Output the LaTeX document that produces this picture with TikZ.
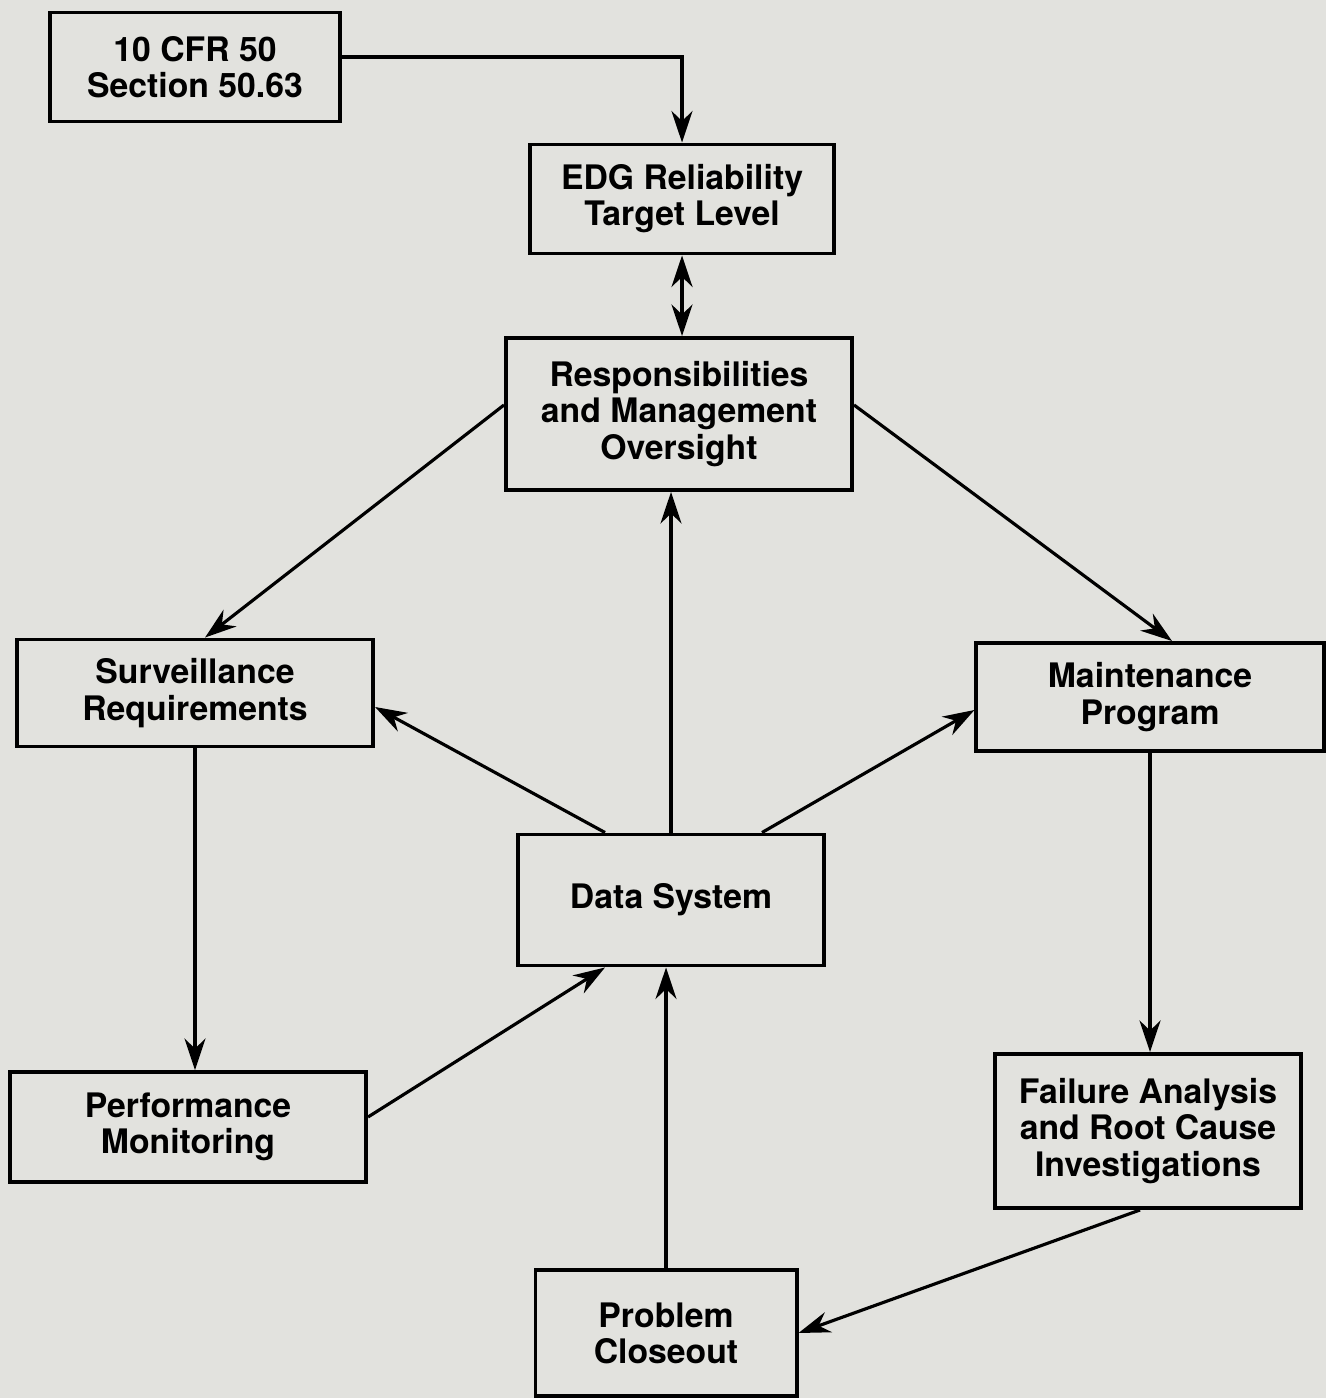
\documentclass[tikz,border=0pt]{standalone}
\usepackage{fontspec}
\setmainfont{TeX Gyre Heros}
\usetikzlibrary{arrows.meta,calc}
\definecolor{paper}{RGB}{226,226,222}
\begin{document}
\begin{tikzpicture}[x=0.01cm,y=-0.01cm,line width=0.9pt,
  >={Stealth[length=9pt,width=6pt]},
  box/.style={draw,line width=1.1pt,align=center,inner sep=0pt,
    font=\bfseries\fontsize{9.6}{10.3}\selectfont}]
\fill[paper] (0,0) rectangle (1326,1398);
\useasboundingbox (0,0) rectangle (1326,1398);

\node[box,minimum width=2.89cm,minimum height=1.09cm] (cfr) at (195,67) {10 CFR 50\\Section 50.63};
\node[box,minimum width=3.04cm,minimum height=1.09cm] (edg) at (682,199) {EDG Reliability\\Target Level};
\node[box,minimum width=3.46cm,minimum height=1.52cm] (resp) at (679,414) {Responsibilities\\and Management\\Oversight};
\node[box,minimum width=3.56cm,minimum height=1.07cm] (surv) at (195,693) {Surveillance\\Requirements};
\node[box,minimum width=3.47cm,minimum height=1.08cm] (maint) at (1150,697) {Maintenance\\Program};
\node[box,minimum width=3.05cm,minimum height=1.31cm] (data) at (671,900) {Data System};
\node[box,minimum width=3.56cm,minimum height=1.10cm] (perf) at (188,1127) {Performance\\Monitoring};
\node[box,minimum width=3.06cm,minimum height=1.54cm] (fail) at (1148,1131) {Failure Analysis\\and Root Cause\\Investigations};
\node[box,minimum width=2.61cm,minimum height=1.26cm] (prob) at (666,1333) {Problem\\Closeout};

\draw[->] ($(cfr.east)+(0,-10)$) -| (edg.north);
\draw[<->] (edg.south) -- (edg.south |- resp.north);
\draw[->] ($(resp.west)+(0,-9)$) -- ($(surv.north)+(10,0)$);
\draw[->] ($(resp.east)+(0,-9)$) -- ($(maint.north)+(22,0)$);
\draw[->] (data.north) -- (data.north |- resp.south);
\draw[->] ($(data.north)+(-66,0)$) -- ($(surv.east)+(0,14)$);
\draw[->] ($(data.north)+(91,0)$) -- ($(maint.west)+(0,13)$);
\draw[->] (surv.south) -- (surv.south |- perf.north);
\draw[->] ($(perf.east)+(0,-10)$) -- ($(data.south)+(-66,0)$);
\draw[->] (prob.north) -- (prob.north |- data.south);
\draw[->] (maint.south) -- (maint.south |- fail.north);
\draw[->] ($(fail.south)+(-8,0)$) -- (prob.east);
\end{tikzpicture}
\end{document}
